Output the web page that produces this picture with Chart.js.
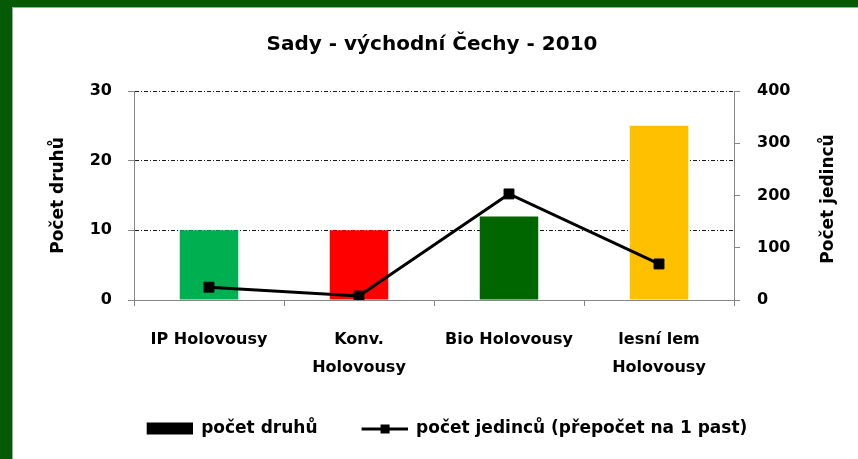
<!DOCTYPE html>
<html>
<head>
<meta charset="utf-8">
<script src="https://cdn.jsdelivr.net/npm/chart.js@4.4.0/dist/chart.umd.min.js"></script>
<style>
  body { margin: 0; background: #fff; }
  #frame { position: relative; width: 858px; height: 459px; background: #055a05; overflow: hidden; }
  #paper { position: absolute; left: 12px; top: 7px; right: 0; bottom: 0; background: #fff;
           border-left: 1px solid #a6a6a6; border-top: 1px solid #a6a6a6; }
  #chart { position: absolute; left: 0; top: 0; }
</style>
</head>
<body>
<div id="frame">
  <div id="paper"></div>
  <canvas id="chart" width="858" height="459"></canvas>
</div>
<script>
// data
const categories = ['IP Holovousy', ['Konv.', 'Holovousy'], 'Bio Holovousy', ['lesní lem', 'Holovousy']];
const speciesCount = [10, 10, 12, 25];                 // počet druhů (left axis)
const individuals = [24.5, 7.5, 203, 69];              // počet jedinců (right axis)
const barColors = ['#00b050', '#ff0000', '#006600', '#ffc000'];
const leftTicks = [0, 10, 20, 30];
const rightTicks = [0, 100, 200, 300, 400];

const chartTitle = 'Sady - východní Čechy - 2010';
const leftTitle = 'Počet druhů';
const rightTitle = 'Počet jedinců';
const barLabel = 'počet druhů';
const lineLabel = 'počet jedinců (přepočet na 1 past)';

Chart.defaults.font.family = "'DejaVu Sans', sans-serif";
Chart.defaults.font.weight = 'bold';
Chart.defaults.color = '#000';

const axisGray = '#868686';

// legend icons, visible part sits at the right end of the box
function makeIcon(kind) {
    const c = document.createElement('canvas');
    c.width = 76;
    c.height = 14;
    const g = c.getContext('2d');
    g.fillStyle = '#000';
    if (kind === 'bar') {
        g.fillRect(30, 1, 46, 12);
    } else {
        g.fillRect(30, 6, 46, 3);
        g.fillRect(49, 3, 9, 9);
    }
    return c;
}
const barIcon = makeIcon('bar');
const lineIcon = makeIcon('line');

// right axis title reads bottom-to-top in the original
const rightTitlePlugin = {
    id: 'rightTitle',
    afterDraw(chart) {
        const ctx = chart.ctx;
        ctx.save();
        ctx.translate(829, 199);
        ctx.rotate(-Math.PI / 2);
        ctx.font = "bold 17px 'DejaVu Sans', sans-serif";
        ctx.fillStyle = '#000';
        ctx.textAlign = 'center';
        ctx.textBaseline = 'middle';
        ctx.fillText(rightTitle, 0, 0);
        ctx.restore();
    }
};

new Chart(document.getElementById('chart'), {
    type: 'bar',
    data: {
        labels: categories,
        datasets: [
            {
                type: 'line',
                label: lineLabel,
                data: individuals,
                yAxisID: 'y1',
                borderColor: '#000',
                borderWidth: 3,
                pointStyle: 'rect',
                pointRadius: 7,
                pointBackgroundColor: '#000',
                pointBorderColor: '#000',
                pointBorderWidth: 1,
                tension: 0,
                order: 0
            },
            {
                type: 'bar',
                label: barLabel,
                data: speciesCount,
                yAxisID: 'y',
                backgroundColor: barColors,
                categoryPercentage: 1,
                barPercentage: 0.39,
                order: 1
            }
        ]
    },
    options: {
        responsive: false,
        animation: false,
        layout: { padding: { left: 6, right: 0, top: 0, bottom: 12 } },
        plugins: {
            title: {
                display: true,
                text: chartTitle,
                font: { size: 20, weight: 'bold' },
                padding: { top: 33, bottom: 34 }
            },
            legend: {
                position: 'bottom',
                labels: {
                    usePointStyle: true,
                    pointStyleWidth: 76,
                    padding: 14,
                    font: { size: 17, weight: 'bold' },
                    generateLabels: () => [
                        { text: barLabel, pointStyle: barIcon, fillStyle: '#000', strokeStyle: '#000', lineWidth: 0, hidden: false, datasetIndex: 1 },
                        { text: lineLabel, pointStyle: lineIcon, fillStyle: '#000', strokeStyle: '#000', lineWidth: 0, hidden: false, datasetIndex: 0 }
                    ]
                }
            },
            tooltip: { enabled: false }
        },
        scales: {
            x: {
                grid: {
                    drawOnChartArea: false,
                    tickLength: 6,
                    tickColor: axisGray
                },
                border: { color: axisGray, width: 1 },
                ticks: {
                    font: { size: 16, weight: 'bold', lineHeight: 1.8 },
                    padding: 19,
                    maxRotation: 0,
                    autoSkip: false
                },
                afterFit: scale => { scale.height = 106; }
            },
            y: {
                position: 'left',
                min: 0,
                max: 30,
                afterBuildTicks: scale => { scale.ticks = leftTicks.map(v => ({ value: v })); },
                grid: {
                    color: c => (c.tick && c.tick.value === 0 ? 'rgba(0,0,0,0)' : '#1a1a1a'),
                    tickBorderDash: [],
                    tickColor: axisGray,
                    tickLength: 6
                },
                // in v4 border.dash sets the dash of the grid lines
                border: { color: axisGray, width: 1, dash: [4, 2, 1, 2] },
                ticks: { font: { size: 16, weight: 'bold' }, padding: 16 },
                title: {
                    display: true,
                    text: leftTitle,
                    font: { size: 17, weight: 'bold' },
                    padding: { top: 42, bottom: 0 }
                },
                afterFit: scale => { scale.width = 128; }
            },
            y1: {
                position: 'right',
                min: 0,
                max: 400,
                afterBuildTicks: scale => { scale.ticks = rightTicks.map(v => ({ value: v })); },
                grid: {
                    drawOnChartArea: false,
                    tickColor: axisGray,
                    tickLength: 6
                },
                border: { color: axisGray, width: 1 },
                ticks: { font: { size: 16, weight: 'bold' }, padding: 17 },
                afterFit: scale => { scale.width = 124; }
            }
        }
    },
    plugins: [rightTitlePlugin]
});
</script>
</body>
</html>
